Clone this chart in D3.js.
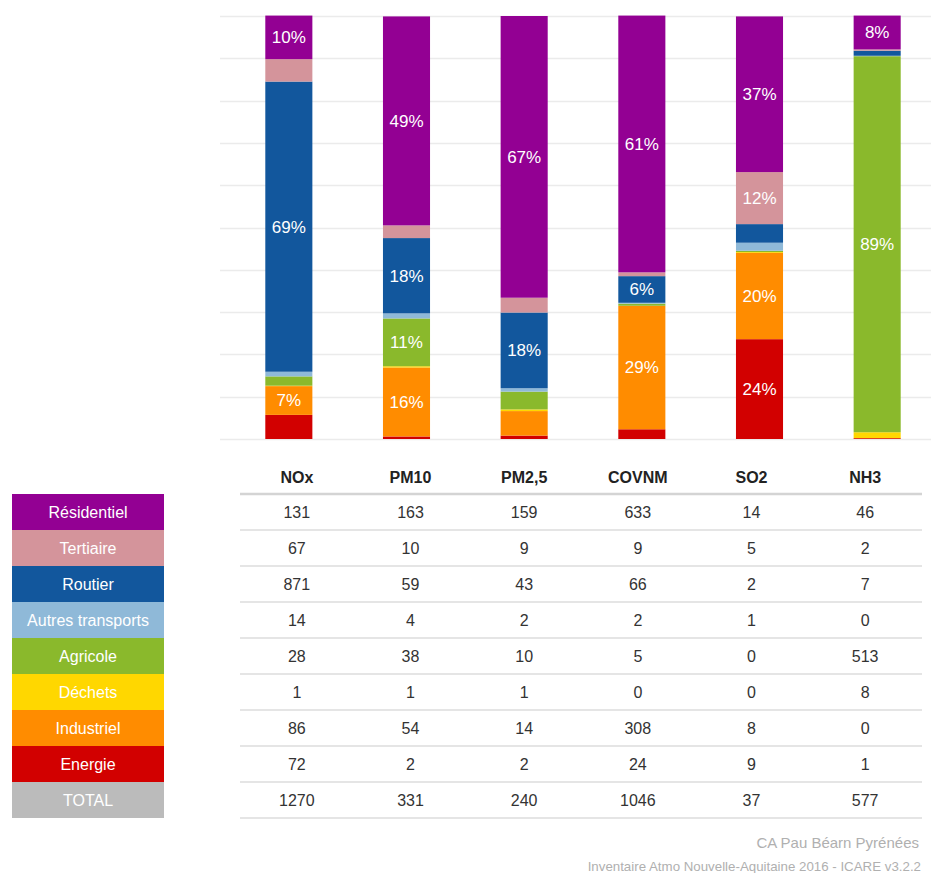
<!DOCTYPE html>
<html>
<head>
<meta charset="utf-8">
<script src="https://cdn.jsdelivr.net/npm/d3@7"></script>
<style>
  body { margin: 0; background: #fff; }
  svg { display: block; font-family: "Liberation Sans", Arial, sans-serif; }
</style>
</head>
<body>
<div id="chart"></div>
<script>
// polluants (colonnes)
var pollutants = ["NOx", "PM10", "PM2,5", "COVNM", "SO2", "NH3"];

// secteurs, du haut vers le bas du tableau
var sectors = ["Résidentiel", "Tertiaire", "Routier", "Autres transports", "Agricole", "Déchets", "Industriel", "Energie"];
var sectorColors = ["#930093", "#d4949b", "#12579d", "#8fb9d8", "#8ab92c", "#ffd700", "#ff8c00", "#d20000"];

// emissions (t) lues dans le tableau
var residentiel = [131, 163, 159, 633, 14, 46];
var tertiaire   = [67, 10, 9, 9, 5, 2];
var routier     = [871, 59, 43, 66, 2, 7];
var autresTr    = [14, 4, 2, 2, 1, 0];
var agricole    = [28, 38, 10, 5, 0, 513];
var dechets     = [1, 1, 1, 0, 0, 8];
var industriel  = [86, 54, 14, 308, 8, 0];
var energie     = [72, 2, 2, 24, 9, 1];
var totals      = [1270, 331, 240, 1046, 37, 577];

var pResidentiel = [10.3, 49.4, 66.6, 60.7, 36.8, 8.0];
var pTertiaire   = [5.3, 3.0, 3.5, 0.9, 12.3, 0.3];
var pRoutier     = [68.6, 17.8, 17.9, 6.3, 4.4, 1.2];
var pAutresTr    = [1.1, 1.2, 0.8, 0.2, 1.9, 0.1];
var pAgricole    = [2.2, 11.3, 4.2, 0.5, 0.3, 88.9];
var pDechets     = [0.1, 0.3, 0.4, 0.0, 0.2, 1.4];
var pIndustriel  = [6.8, 16.3, 5.8, 29.2, 20.4, 0.0];
var pEnergie     = [5.7, 0.6, 0.8, 2.3, 23.6, 0.2];

var emissions = [residentiel, tertiaire, routier, autresTr, agricole, dechets, industriel, energie];
var shares = [pResidentiel, pTertiaire, pRoutier, pAutresTr, pAgricole, pDechets, pIndustriel, pEnergie];

var width = 931, height = 873;

var svg = d3.select("#chart").append("svg")
    .attr("width", width)
    .attr("height", height);

// ---- graphique en barres empilees ----
var x = d3.scaleBand()
    .domain(pollutants)
    .range([230, 936])
    .paddingInner(0.6)
    .paddingOuter(0.3);

var y = d3.scaleLinear()
    .domain([0, 100])
    .range([439, 16]);

// grille
svg.append("g")
    .selectAll("line")
    .data(y.ticks(10))
    .enter().append("line")
    .attr("x1", 220)
    .attr("x2", width)
    .attr("y1", function(d) { return Math.round(y(d)) + 0.5; })
    .attr("y2", function(d) { return Math.round(y(d)) + 0.5; })
    .attr("stroke", "#ebebeb")
    .attr("stroke-width", 1.5);

// empilement : Energie en bas, Residentiel en haut
var rows = pollutants.map(function(p, j) {
    var r = {pollutant: p};
    sectors.forEach(function(s, i) { r[s] = shares[i][j]; });
    return r;
});

var stack = d3.stack().keys(sectors.slice().reverse());
var series = stack(rows);

var color = d3.scaleOrdinal().domain(sectors).range(sectorColors);

var layer = svg.append("g")
    .selectAll("g")
    .data(series)
    .enter().append("g")
    .attr("fill", function(d) { return color(d.key); });

layer.selectAll("rect")
    .data(function(d) { return d; })
    .enter().append("rect")
    .attr("x", function(d) { return x(d.data.pollutant); })
    .attr("width", x.bandwidth())
    .attr("y", function(d) { return y(d[1]); })
    .attr("height", function(d) { return y(d[0]) - y(d[1]); });

layer.selectAll("text")
    .data(function(d) { return d.filter(function(v) { return v[1] - v[0] >= 6; }); })
    .enter().append("text")
    .attr("x", function(d) { return x(d.data.pollutant) + x.bandwidth() / 2; })
    .attr("y", function(d) { return (y(d[0]) + y(d[1])) / 2; })
    .attr("dy", "0.35em")
    .attr("text-anchor", "middle")
    .attr("fill", "#fff")
    .attr("font-size", 17)
    .text(function(d) { return Math.round(d[1] - d[0]) + "%"; });

// ---- tableau ----
var rowLabels = sectors.concat(["TOTAL"]);

var col = d3.scaleBand()
    .domain(pollutants)
    .range([240, 922]);

var row = d3.scaleBand()
    .domain(rowLabels)
    .range([494, 818]);

var table = svg.append("g");

table.selectAll(".head")
    .data(pollutants)
    .enter().append("text")
    .attr("class", "head")
    .attr("x", function(d) { return col(d) + col.bandwidth() / 2; })
    .attr("y", 477)
    .attr("dy", "0.35em")
    .attr("text-anchor", "middle")
    .attr("font-weight", "bold")
    .attr("font-size", 16)
    .attr("fill", "#222")
    .text(function(d) { return d; });

// lignes de separation
table.selectAll(".sep")
    .data(rowLabels.map(function(r) { return row(r) + row.bandwidth(); }).concat([494]))
    .enter().append("line")
    .attr("x1", 240)
    .attr("x2", 922)
    .attr("y1", function(d) { return d; })
    .attr("y2", function(d) { return d; })
    .attr("stroke", function(d) { return d === 494 ? "#d4d4d4" : "#dcdcdc"; })
    .attr("stroke-width", function(d) { return d === 494 ? 2.5 : 1.5; });

var tableRows = emissions.concat([totals]);

table.selectAll(".row")
    .data(tableRows)
    .enter().append("g")
    .attr("class", "row")
    .each(function(vals, i) {
        d3.select(this).selectAll("text")
            .data(vals)
            .enter().append("text")
            .attr("x", function(d, j) { return col(pollutants[j]) + col.bandwidth() / 2; })
            .attr("y", row(rowLabels[i]) + row.bandwidth() / 2)
            .attr("dy", "0.35em")
            .attr("text-anchor", "middle")
            .attr("font-size", 16)
            .attr("fill", "#333")
            .text(function(d) { return d; });
    });

// ---- legende ----
var legendColor = sectorColors.concat(["#bbbbbb"]);

var legend = svg.append("g")
    .selectAll("g")
    .data(rowLabels)
    .enter().append("g");

legend.append("rect")
    .attr("x", 12)
    .attr("width", 152)
    .attr("y", function(d) { return row(d); })
    .attr("height", row.bandwidth())
    .attr("fill", function(d, i) { return legendColor[i]; });

legend.append("text")
    .attr("x", 88)
    .attr("y", function(d) { return row(d) + row.bandwidth() / 2; })
    .attr("dy", "0.35em")
    .attr("text-anchor", "middle")
    .attr("font-size", 16)
    .attr("fill", "#fff")
    .text(function(d) { return d; });

// ---- source ----
svg.append("text")
    .attr("x", 919)
    .attr("y", 843)
    .attr("dy", "0.35em")
    .attr("text-anchor", "end")
    .attr("font-size", 15)
    .attr("fill", "#b0b0b0")
    .text("CA Pau Béarn Pyrénées");

svg.append("text")
    .attr("x", 921)
    .attr("y", 866)
    .attr("dy", "0.35em")
    .attr("text-anchor", "end")
    .attr("font-size", 13.3)
    .attr("fill", "#b0b0b0")
    .text("Inventaire Atmo Nouvelle-Aquitaine 2016 - ICARE v3.2.2");
</script>
</body>
</html>
